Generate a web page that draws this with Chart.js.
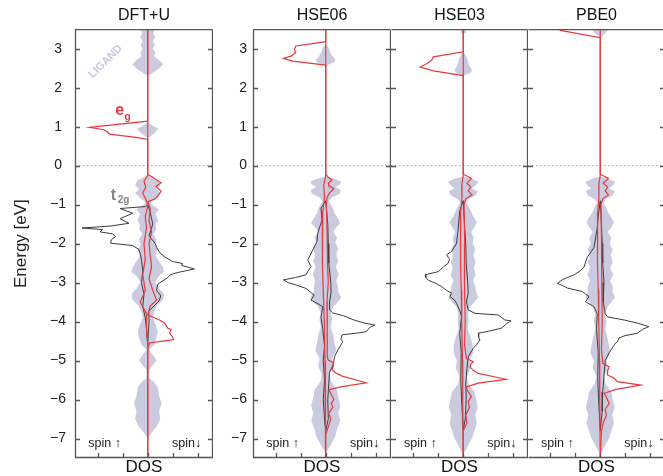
<!DOCTYPE html>
<html>
<head>
<meta charset="utf-8">
<script src="https://cdn.jsdelivr.net/npm/chart.js@4.4.1/dist/chart.umd.min.js"></script>
<style>
  body { margin: 0; width: 663px; height: 476px; overflow: hidden; background: #fff; position: relative; }
  canvas { position: absolute; top: 0; }
</style>
</head>
<body>
<canvas id="dftu" width="213" height="476" style="left:0px"></canvas>
<canvas id="hse06" width="178" height="476" style="left:213px"></canvas>
<canvas id="hse03" width="137" height="476" style="left:391px"></canvas>
<canvas id="pbe0" width="137" height="476" style="left:528px"></canvas>
<script>
// energy axis [eV] and DOS axis tick values
const energyTicks = [3, 2, 1, 0, -1, -2, -3, -4, -5, -6, -7];
const dosTicks = [-2, -1, 0, 1, 2];
const energyMin = -7.5, energyMax = 3.5;
const dosMin = -2.9, dosMax = 2.6;
const fermiLevel = 0;

// ligand DOS: [energy, half width]
const dftuLigand = [[3.5,0.28],[3.4,0.22],[3.3,0.3],[3.2,0.2],[3.1,0.28],[3.0,0.2],[2.9,0.3],[2.8,0.25],[2.72,0.42],[2.6,0.62],[2.48,0.42],[2.38,0.2],[2.3,0],[1.12,0],[1.05,0.12],[0.95,0.42],[0.85,0.3],[0.75,0.1],[0.7,0],[-0.22,0],[-0.3,0.15],[-0.38,0.42],[-0.5,0.5],[-0.6,0.35],[-0.7,0.5],[-0.82,0.32],[-0.92,0.12],[-1.0,0.15],[-1.12,0.45],[-1.25,0.3],[-1.4,0.42],[-1.52,0.3],[-1.62,0.35],[-1.75,0.22],[-1.9,0.35],[-2.02,0.28],[-2.15,0.4],[-2.3,0.3],[-2.45,0.45],[-2.6,0.6],[-2.72,0.65],[-2.85,0.42],[-3.0,0.3],[-3.15,0.45],[-3.3,0.65],[-3.45,0.6],[-3.6,0.35],[-3.75,0.25],[-3.9,0.2],[-4.05,0.3],[-4.25,0.4],[-4.4,0.35],[-4.6,0.25],[-4.72,0.05],[-4.85,0.2],[-5.0,0.35],[-5.12,0.2],[-5.25,0.05],[-5.45,0.05],[-5.55,0.25],[-5.7,0.4],[-5.9,0.45],[-6.1,0.55],[-6.3,0.45],[-6.5,0.5],[-6.7,0.35],[-6.85,0.15],[-7.0,0]];
const hse06Ligand = [[3.12,0],[3.06,0.08],[3.0,0.14],[2.9,0.18],[2.8,0.28],[2.72,0.38],[2.66,0.36],[2.6,0.15],[2.56,0],[-0.28,0],[-0.33,0.3],[-0.4,0.6],[-0.47,0.58],[-0.55,0.38],[-0.62,0.6],[-0.72,0.55],[-0.82,0.25],[-0.92,0.12],[-1.0,0.2],[-1.1,0.3],[-1.22,0.35],[-1.35,0.48],[-1.48,0.58],[-1.58,0.42],[-1.7,0.3],[-1.85,0.45],[-1.98,0.38],[-2.12,0.5],[-2.28,0.42],[-2.45,0.5],[-2.6,0.4],[-2.78,0.52],[-2.95,0.42],[-3.1,0.48],[-3.25,0.5],[-3.38,0.62],[-3.5,0.48],[-3.62,0.3],[-3.78,0.2],[-3.95,0.25],[-4.15,0.2],[-4.35,0.3],[-4.55,0.35],[-4.75,0.42],[-4.95,0.25],[-5.15,0.3],[-5.35,0.15],[-5.55,0.22],[-5.75,0.45],[-5.95,0.5],[-6.15,0.58],[-6.35,0.5],[-6.55,0.58],[-6.75,0.45],[-6.95,0.38],[-7.1,0.25],[-7.25,0.12],[-7.35,0]];
const hse03Ligand = [[3.5,0.1],[3.42,0.12],[3.36,0],[2.92,0],[2.85,0.08],[2.75,0.16],[2.65,0.2],[2.55,0.26],[2.45,0.35],[2.38,0.3],[2.3,0],[-0.28,0],[-0.33,0.32],[-0.42,0.62],[-0.5,0.5],[-0.58,0.35],[-0.66,0.58],[-0.76,0.5],[-0.86,0.22],[-0.95,0.12],[-1.05,0.22],[-1.18,0.32],[-1.3,0.4],[-1.45,0.55],[-1.58,0.45],[-1.7,0.32],[-1.85,0.42],[-2.0,0.38],[-2.15,0.48],[-2.3,0.4],[-2.48,0.5],[-2.62,0.42],[-2.8,0.5],[-2.95,0.4],[-3.1,0.48],[-3.25,0.52],[-3.38,0.6],[-3.5,0.45],[-3.62,0.28],[-3.8,0.2],[-4.0,0.22],[-4.2,0.18],[-4.4,0.3],[-4.6,0.38],[-4.8,0.4],[-5.0,0.25],[-5.2,0.3],[-5.4,0.15],[-5.6,0.2],[-5.8,0.45],[-6.0,0.52],[-6.2,0.58],[-6.4,0.48],[-6.6,0.55],[-6.8,0.45],[-7.0,0.35],[-7.15,0.22],[-7.3,0.1],[-7.4,0]];
const pbe0Ligand = [[3.5,0.3],[3.42,0.25],[3.35,0.12],[3.28,0],[-0.28,0],[-0.33,0.3],[-0.42,0.6],[-0.5,0.52],[-0.58,0.35],[-0.66,0.58],[-0.76,0.5],[-0.86,0.22],[-0.95,0.12],[-1.05,0.22],[-1.18,0.3],[-1.3,0.42],[-1.45,0.55],[-1.58,0.45],[-1.7,0.3],[-1.85,0.45],[-2.0,0.38],[-2.15,0.5],[-2.3,0.42],[-2.48,0.5],[-2.62,0.4],[-2.8,0.52],[-2.95,0.4],[-3.1,0.5],[-3.25,0.5],[-3.38,0.6],[-3.5,0.45],[-3.62,0.3],[-3.8,0.2],[-4.0,0.25],[-4.2,0.2],[-4.4,0.28],[-4.6,0.35],[-4.8,0.4],[-5.0,0.25],[-5.2,0.3],[-5.4,0.15],[-5.6,0.22],[-5.8,0.45],[-6.0,0.5],[-6.2,0.58],[-6.4,0.48],[-6.6,0.55],[-6.8,0.45],[-7.0,0.35],[-7.15,0.22],[-7.3,0.1],[-7.4,0]];

// eg (red) and t2g (black) projected DOS: [energy, DOS], spin up < 0, spin down > 0
const dftuEgUp = [[3.5,0],[1.14,0],[0.98,-2.32],[0.92,-1.75],[0.87,-1.62],[0.81,-1.52],[0.72,-0.4],[0.67,0],[-0.25,0],[-0.4,-0.15],[-0.55,-0.08],[-0.7,-0.2],[-0.9,-0.05],[-1.05,0],[-1.3,-0.1],[-1.6,-0.05],[-2.0,-0.15],[-2.4,-0.1],[-2.8,-0.2],[-3.2,-0.1],[-3.5,-0.3],[-3.8,-0.05],[-4.2,-0.05],[-4.6,0],[-7.5,0]];
const dftuEgDown = [[3.5,0],[-0.22,0],[-0.3,0.2],[-0.44,0.53],[-0.53,0.33],[-0.66,0.53],[-0.78,0.4],[-0.86,0.27],[-0.93,0],[-1.1,0.1],[-1.4,0.05],[-1.7,0.15],[-2.0,0.05],[-2.3,0.1],[-2.6,0.15],[-2.9,0.05],[-3.2,0.2],[-3.45,0.35],[-3.6,0.1],[-3.83,0],[-3.96,0.47],[-4.04,0.67],[-4.17,0.8],[-4.2,0.93],[-4.29,0.87],[-4.36,0.95],[-4.46,1.03],[-4.5,0.6],[-4.55,0.07],[-4.7,0],[-7.5,0]];
const dftuT2gUp = [[-1.0,0],[-1.05,-0.1],[-1.1,-1.1],[-1.22,-0.6],[-1.36,-1.1],[-1.48,-0.75],[-1.55,-1.5],[-1.6,-2.62],[-1.64,-1.8],[-1.7,-1.9],[-1.75,-1.4],[-1.82,-1.28],[-1.9,-1.45],[-1.99,-1.48],[-2.05,-0.6],[-2.15,-0.35],[-2.4,-0.25],[-2.7,-0.2],[-3.0,-0.25],[-3.3,-0.15],[-3.6,-0.2],[-3.9,-0.1],[-4.2,-0.05],[-4.6,0]];
const dftuT2gDown = [[-1.0,0],[-1.2,0.1],[-1.5,0.2],[-1.8,0.05],[-2.0,0.3],[-2.1,0.35],[-2.25,0.5],[-2.35,0.7],[-2.46,0.99],[-2.51,1.39],[-2.56,1.35],[-2.65,1.86],[-2.7,1.5],[-2.74,1.2],[-2.8,0.9],[-2.87,0.8],[-3.04,0.4],[-3.2,0.35],[-3.34,0.52],[-3.47,0.45],[-3.6,0.25],[-3.73,0.04],[-4.0,0.05],[-4.3,0.02],[-4.6,0]];

const hse06EgUp = [[3.5,0],[3.18,0],[3.07,-1.19],[2.98,-1.25],[2.9,-1.2],[2.81,-1.38],[2.75,-1.69],[2.68,-1.32],[2.58,0],[-0.25,0],[-0.5,-0.08],[-0.8,-0.05],[-1.2,-0.12],[-1.8,-0.15],[-2.5,-0.12],[-3.2,-0.1],[-4.0,-0.06],[-5.0,-0.03],[-6.0,-0.02],[-7.5,0]];
const hse06EgDown = [[3.5,0],[-0.22,0],[-0.3,0.1],[-0.37,0.25],[-0.45,0.1],[-0.5,0.12],[-0.59,0.32],[-0.7,0.15],[-0.82,0.05],[-1.0,0.02],[-1.5,0.05],[-2.0,0.08],[-2.5,0.06],[-3.0,0.1],[-3.5,0.05],[-4.0,0.08],[-4.5,0.05],[-4.9,0.05],[-4.99,0.1],[-5.06,0.32],[-5.15,0.3],[-5.23,0.25],[-5.32,0.4],[-5.4,0.65],[-5.57,1.61],[-5.67,0.65],[-5.75,0.12],[-5.85,0.2],[-6.0,0.32],[-6.1,0.22],[-6.2,0.28],[-6.35,0.12],[-6.5,0.2],[-6.7,0.1],[-6.9,0],[-7.5,0]];
const hse06T2gUp = [[-0.9,0],[-1.09,-0.19],[-1.4,-0.15],[-1.73,-0.32],[-1.95,-0.35],[-2.16,-0.52],[-2.3,-0.62],[-2.42,-0.72],[-2.59,-0.59],[-2.7,-0.7],[-2.8,-0.79],[-2.87,-1.2],[-2.93,-1.69],[-3.0,-1.5],[-3.06,-1.19],[-3.15,-0.79],[-3.25,-0.6],[-3.32,-0.46],[-3.45,-0.59],[-3.55,-0.3],[-3.62,-0.12],[-3.89,-0.19],[-4.2,-0.12],[-4.63,-0.05],[-5.0,-0.1],[-5.5,-0.05],[-6.0,-0.1],[-6.5,-0.05],[-6.8,0]];
const hse06T2gDown = [[-0.9,0],[-1.5,0.08],[-2.0,0.1],[-2.5,0.12],[-3.0,0.2],[-3.27,0.21],[-3.5,0.15],[-3.7,0.15],[-3.78,0.28],[-3.85,0.7],[-3.95,1.08],[-4.03,1.48],[-4.09,1.95],[-4.15,1.75],[-4.26,1.61],[-4.3,1.2],[-4.34,0.65],[-4.45,0.6],[-4.52,0.68],[-4.73,0.48],[-4.9,0.35],[-5.1,0.3],[-5.3,0.15],[-5.6,0.12],[-6.0,0.08],[-6.5,0.1],[-6.8,0]];

const hse03EgUp = [[3.5,0],[2.92,0],[2.79,-1.2],[2.7,-1.27],[2.62,-1.45],[2.53,-1.73],[2.43,-1.2],[2.31,0],[-0.25,0],[-0.5,-0.06],[-0.8,-0.05],[-1.2,-0.1],[-1.8,-0.12],[-2.5,-0.1],[-3.2,-0.08],[-4.0,-0.06],[-5.0,-0.03],[-6.0,-0.02],[-7.5,0]];
const hse03EgDown = [[3.5,0],[-0.22,0],[-0.33,0.33],[-0.45,0.15],[-0.55,0.3],[-0.65,0.2],[-0.75,0.35],[-0.85,0.1],[-1.0,0.03],[-2.0,0.06],[-3.0,0.05],[-4.0,0.08],[-4.6,0.05],[-4.95,0.13],[-5.03,0.4],[-5.1,0.3],[-5.16,0.27],[-5.25,0.4],[-5.33,0.6],[-5.48,1.72],[-5.58,0.6],[-5.68,0.1],[-5.8,0.2],[-5.92,0.33],[-6.05,0.2],[-6.2,0.25],[-6.4,0.1],[-6.6,0.15],[-6.8,0],[-7.5,0]];
const hse03T2gUp = [[-0.9,0],[-1.16,-0.14],[-1.6,-0.2],[-2.0,-0.27],[-2.2,-0.47],[-2.29,-0.67],[-2.4,-0.55],[-2.5,-0.6],[-2.6,-0.8],[-2.72,-1.0],[-2.8,-1.53],[-2.87,-1.5],[-2.94,-1.4],[-3.02,-1.1],[-3.1,-0.87],[-3.2,-0.67],[-3.27,-0.47],[-3.36,-0.53],[-3.45,-0.35],[-3.53,-0.27],[-3.7,-0.15],[-3.87,-0.07],[-4.3,-0.14],[-4.8,-0.08],[-5.5,-0.1],[-6.2,-0.05],[-6.8,0]];
const hse03T2gDown = [[-0.9,0],[-1.5,0.05],[-2.0,0.1],[-2.5,0.12],[-3.0,0.18],[-3.27,0.2],[-3.5,0.13],[-3.7,0.2],[-3.79,0.47],[-3.83,1.4],[-3.9,1.55],[-3.96,1.67],[-3.98,1.92],[-4.05,1.75],[-4.17,1.53],[-4.25,1.0],[-4.3,0.6],[-4.4,0.62],[-4.47,0.67],[-4.58,0.55],[-4.69,0.4],[-4.9,0.2],[-5.2,0.15],[-5.6,0.1],[-6.0,0.12],[-6.5,0.08],[-6.8,0]];

const pbe0EgUp = [[3.55,-1.7],[3.47,-1.6],[3.28,0],[-0.25,0],[-0.5,-0.06],[-0.8,-0.05],[-1.2,-0.1],[-1.8,-0.12],[-2.5,-0.1],[-3.2,-0.08],[-4.0,-0.06],[-5.0,-0.03],[-6.0,-0.02],[-7.5,0]];
const pbe0EgDown = [[3.5,0],[-0.22,0],[-0.33,0.33],[-0.45,0.12],[-0.55,0.3],[-0.65,0.2],[-0.75,0.33],[-0.85,0.1],[-1.0,0.03],[-2.0,0.05],[-3.0,0.06],[-4.0,0.08],[-4.7,0.05],[-5.07,0.1],[-5.16,0.36],[-5.25,0.3],[-5.37,0.29],[-5.45,0.55],[-5.54,0.69],[-5.63,1.63],[-5.74,0.63],[-5.84,0.16],[-5.95,0.25],[-6.1,0.36],[-6.25,0.2],[-6.4,0.25],[-6.6,0.12],[-6.8,0.05],[-7.5,0]];
const pbe0T2gUp = [[-0.9,0],[-1.3,-0.08],[-1.6,-0.12],[-2.1,-0.25],[-2.35,-0.52],[-2.5,-0.6],[-2.6,-0.65],[-2.7,-0.8],[-2.8,-1.05],[-2.92,-1.5],[-3.02,-1.72],[-3.08,-1.5],[-3.14,-1.32],[-3.23,-0.72],[-3.36,-0.45],[-3.49,-0.59],[-3.62,-0.25],[-3.8,-0.12],[-4.2,-0.15],[-4.8,-0.08],[-5.5,-0.1],[-6.2,-0.05],[-6.8,0]];
const pbe0T2gDown = [[-0.9,0],[-1.5,0.05],[-2.0,0.08],[-2.5,0.1],[-3.0,0.15],[-3.5,0.12],[-3.8,0.2],[-3.88,0.29],[-3.96,0.96],[-4.04,1.49],[-4.13,1.95],[-4.2,1.7],[-4.3,1.49],[-4.36,1.0],[-4.42,0.76],[-4.5,0.7],[-4.6,0.56],[-4.8,0.36],[-5.0,0.2],[-5.4,0.15],[-5.8,0.1],[-6.3,0.08],[-6.8,0]];

const fontFamily = "'Liberation Sans', Arial, sans-serif";
const redColor = '#e63a3f';
const darkColor = '#3c3c3c';
const ligandColor = '#cbcbe0';

function toPoints(pairs) {
    return pairs.map(p => ({ x: p[1], y: p[0] }));
}

// closed polygon: right side going down, mirrored left side coming back up
function ligandShape(pairs) {
    let right = pairs.map(p => ({ x: p[1], y: p[0] }));
    let left = pairs.slice().reverse().map(p => ({ x: -p[1], y: p[0] }));
    return right.concat(left);
}

function minusLabel(value) {
    return value < 0 ? '\u2212' + Math.abs(value) : String(value);
}

// frame, inward tick marks and free text labels
const decoPlugin = {
    id: 'deco',
    afterDatasetsDraw(chart, args, opts) {
        const ctx = chart.ctx;
        const area = chart.chartArea;
        const xs = chart.scales.x;
        const ys = chart.scales.y;
        const l = area.left + 0.5, r = area.right - 0.5, t = area.top + 0.5, b = area.bottom - 0.5;
        ctx.save();
        ctx.strokeStyle = '#555';
        ctx.lineWidth = 1.3;
        ctx.beginPath();
        ctx.moveTo(r, t);
        ctx.lineTo(r, b);
        ctx.lineTo(l, b);
        if (!opts.sharedLeft) {
            ctx.lineTo(l, t);
        } else {
            ctx.moveTo(l, t);
        }
        ctx.lineTo(r, t);
        ctx.stroke();
        ctx.beginPath();
        ys.ticks.forEach(tk => {
            let py = Math.round(ys.getPixelForValue(tk.value)) + 0.5;
            ctx.moveTo(area.left, py);
            ctx.lineTo(area.left + 5, py);
            ctx.moveTo(area.right - 5, py);
            ctx.lineTo(area.right, py);
        });
        xs.ticks.forEach(tk => {
            let px = Math.round(xs.getPixelForValue(tk.value)) + 0.5;
            ctx.moveTo(px, area.bottom);
            ctx.lineTo(px, area.bottom - 5);
        });
        ctx.stroke();
        (opts.texts || []).forEach(item => {
            ctx.save();
            ctx.translate(xs.getPixelForValue(item.x), ys.getPixelForValue(item.y));
            if (item.rotate) ctx.rotate(item.rotate);
            ctx.font = item.font;
            ctx.fillStyle = item.color;
            ctx.textAlign = item.align || 'left';
            ctx.textBaseline = item.baseline || 'alphabetic';
            ctx.fillText(item.text, 0, 0);
            ctx.restore();
        });
        ctx.restore();
    }
};

const spinTexts = [
    { text: 'spin \u2191', x: -1.72, y: -7.12, font: '12.5px ' + fontFamily, color: '#222', align: 'center', baseline: 'middle' },
    { text: 'spin\u2193', x: 1.55, y: -7.12, font: '12.5px ' + fontFamily, color: '#222', align: 'center', baseline: 'middle' }
];

function makePanel(canvasId, title, ligand, t2gUp, t2gDown, egUp, egDown, axis, texts) {
    let ctx = document.getElementById(canvasId).getContext('2d');
    return new Chart(ctx, {
        type: 'scatter',
        data: {
            datasets: [
                { data: toPoints(egUp), borderColor: redColor, borderWidth: 1.2, order: 0 },
                { data: toPoints(egDown), borderColor: redColor, borderWidth: 1.2, order: 0 },
                { data: toPoints(t2gUp), borderColor: darkColor, borderWidth: 1, order: 1 },
                { data: toPoints(t2gDown), borderColor: darkColor, borderWidth: 1, order: 1 },
                { data: ligandShape(ligand), borderWidth: 0, borderColor: ligandColor, backgroundColor: ligandColor, fill: 'shape', order: 2 },
                { data: [{ x: dosMin, y: fermiLevel }, { x: dosMax, y: fermiLevel }], borderColor: '#aaa', borderWidth: 1, borderDash: [1.5, 2.5], order: 3 }
            ]
        },
        options: {
            responsive: false,
            animation: false,
            devicePixelRatio: 1,
            showLine: true,
            elements: { point: { radius: 0 }, line: { tension: 0, fill: false } },
            layout: { padding: 0 },
            plugins: {
                legend: { display: false },
                tooltip: { enabled: false },
                title: {
                    display: true,
                    text: title,
                    fullSize: false,
                    color: '#111',
                    font: { family: fontFamily, size: 16, weight: 'normal', lineHeight: 1.2 },
                    padding: { top: 6, bottom: 4 }
                },
                deco: { texts: spinTexts.concat(texts || []), sharedLeft: axis.sharedLeft }
            },
            scales: {
                x: {
                    type: 'linear',
                    min: dosMin,
                    max: dosMax,
                    afterBuildTicks: a => { a.ticks = dosTicks.map(v => ({ value: v })); },
                    afterFit: s => { s.height = 18; },
                    grid: { display: false, drawTicks: false },
                    border: { display: false },
                    ticks: { display: false },
                    title: {
                        display: true,
                        text: 'DOS',
                        color: '#111',
                        font: { family: fontFamily, size: 17, lineHeight: 1 },
                        padding: 0
                    }
                },
                y: {
                    type: 'linear',
                    min: energyMin,
                    max: energyMax,
                    afterBuildTicks: a => { a.ticks = energyTicks.map(v => ({ value: v })); },
                    afterFit: s => { s.width = axis.width; },
                    grid: { display: false, drawTicks: false },
                    border: { display: false },
                    ticks: {
                        display: axis.labels,
                        padding: axis.padding,
                        crossAlign: axis.align,
                        color: '#222',
                        font: { family: fontFamily, size: 14 },
                        callback: minusLabel
                    },
                    title: {
                        display: axis.title,
                        text: 'Energy [eV]',
                        color: '#222',
                        font: { family: fontFamily, size: 17, lineHeight: 1 },
                        padding: { top: 13, bottom: 0 }
                    }
                }
            }
        },
        plugins: [decoPlugin]
    });
}

const methods = ['DFT+U', 'HSE06', 'HSE03', 'PBE0'];

const dftuTexts = [
    { text: 'LIGAND', x: -1.68, y: 2.67, font: 'bold 11px ' + fontFamily, color: '#c8c8dc', align: 'center', baseline: 'middle', rotate: -Math.PI / 4 },
    { text: 'e', x: -1.3, y: 1.31, font: 'bold 16px ' + fontFamily, color: redColor },
    { text: 'g', x: -0.93, y: 1.18, font: 'bold 10px ' + fontFamily, color: redColor },
    { text: 't', x: -1.48, y: -0.87, font: 'bold 16px ' + fontFamily, color: '#858585' },
    { text: '2g', x: -1.2, y: -0.96, font: 'bold 10px ' + fontFamily, color: '#858585' }
];

makePanel('dftu', methods[0], dftuLigand, dftuT2gUp, dftuT2gDown, dftuEgUp, dftuEgDown,
    { width: 75, labels: true, padding: 9, align: 'center', title: true, sharedLeft: false }, dftuTexts);
makePanel('hse06', methods[1], hse06Ligand, hse06T2gUp, hse06T2gDown, hse06EgUp, hse06EgDown,
    { width: 40, labels: true, padding: 6, align: 'near', title: false, sharedLeft: false }, []);
makePanel('hse03', methods[2], hse03Ligand, hse03T2gUp, hse03T2gDown, hse03EgUp, hse03EgDown,
    { width: 0, labels: false, padding: 0, align: 'near', title: false, sharedLeft: true }, []);
makePanel('pbe0', methods[3], pbe0Ligand, pbe0T2gUp, pbe0T2gDown, pbe0EgUp, pbe0EgDown,
    { width: 0, labels: false, padding: 0, align: 'near', title: false, sharedLeft: true }, []);
</script>
</body>
</html>
